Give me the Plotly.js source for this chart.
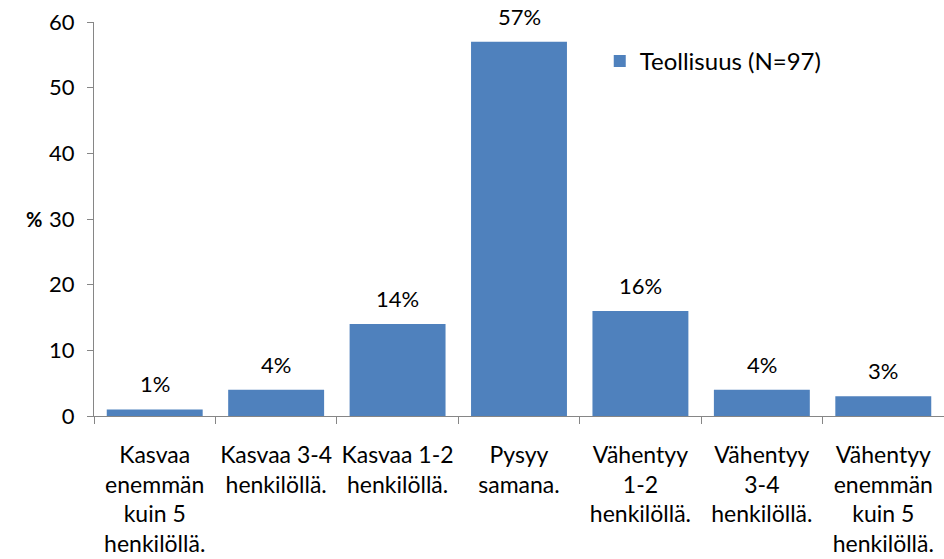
<!DOCTYPE html>
<html>
<head>
<meta charset="utf-8">
<script src="https://cdn.plot.ly/plotly-3.0.1.min.js"></script>
<style>
  html, body { margin: 0; padding: 0; background: #fff; }
  #chart { width: 944px; height: 559px; }
</style>
</head>
<body>
<div id="chart"></div>
<script>
// categories (Finnish answer options) and shares in percent
const categories = [
    'Kasvaa<br>enemmän<br>kuin 5<br>henkilöllä.',
    'Kasvaa 3-4<br>henkilöllä.',
    'Kasvaa 1-2<br>henkilöllä.',
    'Pysyy<br>samana.',
    'Vähentyy<br>1-2<br>henkilöllä.',
    'Vähentyy<br>3-4<br>henkilöllä.',
    'Vähentyy<br>enemmän<br>kuin 5<br>henkilöllä.'
];
const values = [1, 4, 14, 57, 16, 4, 3];
const seriesName = 'Teollisuus (N=97)';
const yTicks = [0, 10, 20, 30, 40, 50, 60];

const font = 'Lato, "Open Sans", sans-serif';
const fs = 22;

const trace = {
    type: 'bar',
    x: categories,
    y: values,
    name: seriesName,
    marker: { color: '#4F81BD' },
    width: 0.79,
    hoverinfo: 'x+y'
};

// value labels above the bars
const labels = categories.map((c, i) => ({
    x: c, y: values[i], xref: 'x', yref: 'y',
    text: values[i] + '%', showarrow: false,
    yanchor: 'bottom', yshift: 10,
    font: { family: font, size: fs, color: '#000' }
}));

const layout = {
    width: 944,
    height: 559,
    margin: { l: 94, r: 0, t: 22, b: 143 },
    paper_bgcolor: '#fff',
    plot_bgcolor: '#fff',
    font: { family: font, size: fs, color: '#000' },
    showlegend: true,
    legend: {
        x: 0.595, y: 0.9, xanchor: 'left', yanchor: 'middle',
        font: { family: font, size: 24, color: '#000' },
        bgcolor: 'rgba(0,0,0,0)'
    },
    xaxis: {
        type: 'category',
        showline: true, linecolor: '#868686', linewidth: 1,
        ticks: 'outside', ticklen: 7, tickcolor: '#868686',
        tickson: 'boundaries',
        ticklabelstandoff: 18,
        showgrid: false, zeroline: false,
        tickangle: 0,
        tickfont: { family: font, size: 23 },
        range: [-0.5, 6.5]
    },
    yaxis: {
        range: [0, 60],
        tickvals: yTicks,
        showline: true, linecolor: '#868686', linewidth: 1,
        ticks: 'outside', ticklen: 6, tickcolor: '#868686',
        ticklabelstandoff: 8,
        showgrid: false, zeroline: false,
        tickfont: { family: font, size: fs }
    },
    annotations: [{
        text: '<b>%</b>', xref: 'paper', yref: 'paper',
        x: -0.07, y: 0.5, xanchor: 'center', yanchor: 'middle',
        showarrow: false, font: { family: font, size: 20 }
    }].concat(labels)
};

Plotly.newPlot('chart', [trace], layout, { displayModeBar: false, staticPlot: true });
</script>
</body>
</html>
